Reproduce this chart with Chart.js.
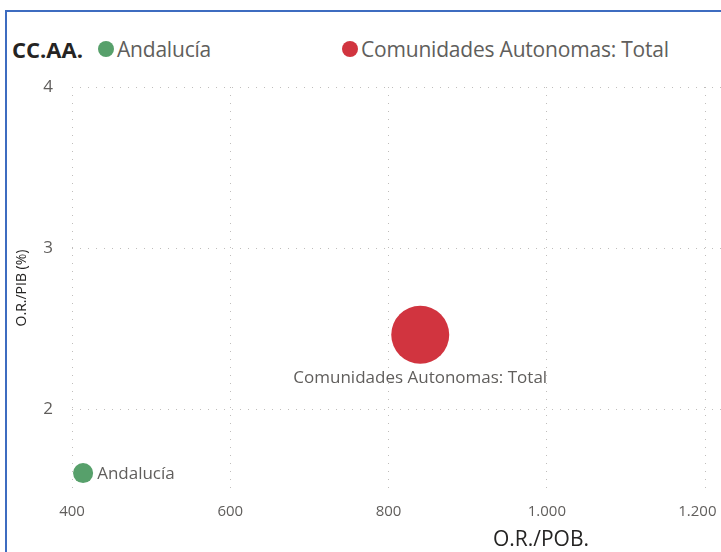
<!DOCTYPE html>
<html>
<head>
<meta charset="utf-8">
<script src="https://cdn.jsdelivr.net/npm/chart.js@4.4.1/dist/chart.umd.min.js"></script>
<style>
  body { margin: 0; background: #fff; font-family: 'Open Sans', sans-serif; }
  #wrap { position: relative; width: 721px; height: 552px; overflow: hidden; }
  #frame { position: absolute; left: 5px; top: 10px; right: -10px; bottom: -10px;
           border-left: 2px solid #3d6cc0; border-top: 2px solid #3d6cc0; }
  #legend { position: absolute; left: 12px; top: 34px; display: flex; align-items: center;
            font-size: 21px; color: #605e5c; white-space: nowrap; letter-spacing: -0.2px; }
  #legend .title { font-weight: bold; color: #252423; font-size: 22px; width: 86px; letter-spacing: 0; }
  #legend .item { display: inline-flex; align-items: center; width: 244px; }
  #legend .dot { width: 16px; height: 16px; flex-shrink: 0; border-radius: 50%; margin-right: 3px; }
  canvas { position: absolute; left: 0; top: 0; }
</style>
</head>
<body>
<div id="wrap">
  <div id="frame"></div>
  <div id="legend"><span class="title">CC.AA.</span></div>
  <canvas id="myChart" width="721" height="552"></canvas>
</div>
<script>
const categories = ['Andalucía', 'Comunidades Autonomas: Total'];
const orPob = [414, 840];        // O.R./POB.
const orPib = [1.605, 2.463];    // O.R./PIB (%)
const sizeValues = [12, 100];    // tamaño de burbuja (relativo)
const colors = ['#57a06b', '#d1343f'];
const xTicks = [400, 600, 800, 1000, 1200];
const yTicks = [2, 3, 4];

const maxRadius = 29;

// no extra padding for the bubbles, the plot runs to the right edge like in Power BI
Chart.BubbleController.prototype.getMaxOverflow = function () { return 0; };

function buildLegend() {
    const legend = document.getElementById('legend');
    categories.forEach((name, i) => {
        const item = document.createElement('span');
        item.className = 'item';
        const dot = document.createElement('span');
        dot.className = 'dot';
        dot.style.background = colors[i];
        item.appendChild(dot);
        item.appendChild(document.createTextNode(name));
        legend.appendChild(item);
    });
}

function formatThousands(v) {
    return String(v).replace(/\B(?=(\d{3})+(?!\d))/g, '.');
}

const labelsPlugin = {
    id: 'labelsPlugin',
    afterDatasetsDraw(chart) {
        const ctx = chart.ctx;
        ctx.save();
        ctx.fillStyle = '#605e5c';
        ctx.font = '17px "Open Sans"';
        chart.data.datasets.forEach((ds, i) => {
            const el = chart.getDatasetMeta(i).data[0];
            const r = el.options.radius;
            if (r < 15) {
                ctx.textAlign = 'left';
                ctx.textBaseline = 'middle';
                ctx.fillText(ds.label, el.x + r + 4, el.y + 1);
            } else {
                ctx.textAlign = 'center';
                ctx.textBaseline = 'top';
                ctx.fillText(ds.label, el.x, el.y + r + 6);
            }
        });
        // axis titles
        ctx.fillStyle = '#252423';
        ctx.font = '21px "Open Sans"';
        ctx.textAlign = 'center';
        ctx.textBaseline = 'middle';
        ctx.fillText('O.R./POB.', 541, 540);
        ctx.translate(22, 288);
        ctx.rotate(-Math.PI / 2);
        ctx.font = '14px "Open Sans"';
        ctx.fillText('O.R./PIB (%)', 0, 0);
        ctx.restore();
    }
};

function generateChart() {
    const ctx = document.getElementById('myChart');
    const datasets = categories.map((name, i) => ({
        label: name,
        data: [{ x: orPob[i], y: orPib[i], r: maxRadius * Math.sqrt(sizeValues[i] / Math.max(...sizeValues)) }],
        backgroundColor: colors[i],
        borderColor: colors[i],
        borderWidth: 0
    }));

    new Chart(ctx, {
        type: 'bubble',
        data: { datasets: datasets },
        plugins: [labelsPlugin],
        options: {
            responsive: false,
            animation: false,
            clip: false,
            layout: { padding: { top: 87, left: 0, right: 0, bottom: 0 } },
            scales: {
                x: {
                    min: 400,
                    max: 1220,
                    afterBuildTicks(s) { s.ticks = xTicks.map(v => ({ value: v })); },
                    afterFit(s) { s.height = 62; s.paddingLeft = 0; s.paddingRight = 0; },
                    border: { display: false, dash: [1, 7] },
                    grid: { color: '#c0bebc', drawTicks: false },
                    ticks: {
                        padding: 13,
                        color: '#605e5c',
                        font: { family: 'Open Sans', size: 15 },
                        maxRotation: 0,
                        autoSkip: false,
                        // last label pulled inside the edge, as Power BI does
                        callback: (v, i, ticks) => formatThousands(v) + (i === ticks.length - 1 ? '    ' : '')
                    }
                },
                y: {
                    min: 1.5,
                    max: 4,
                    afterBuildTicks(s) { s.ticks = yTicks.map(v => ({ value: v })); },
                    afterFit(s) { s.width = 72; },
                    border: { display: false, dash: [1, 7] },
                    grid: { color: '#c0bebc', drawTicks: false },
                    ticks: {
                        padding: 19,
                        color: '#605e5c',
                        font: { family: 'Open Sans', size: 17 }
                    }
                }
            },
            plugins: {
                legend: { display: false },
                tooltip: { enabled: false }
            }
        }
    });
}

buildLegend();
generateChart();
</script>
</body>
</html>
